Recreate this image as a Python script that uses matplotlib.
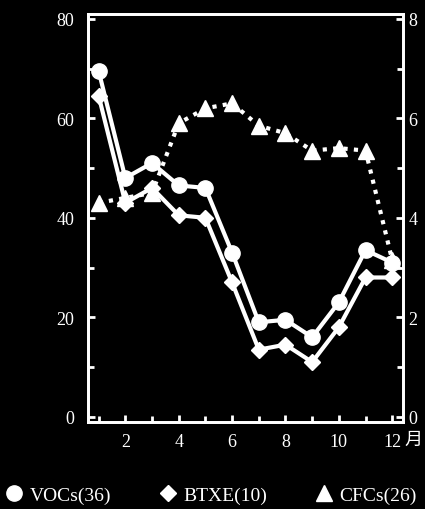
import matplotlib.pyplot as plt
from matplotlib.ticker import MultipleLocator

months = list(range(1, 13))
vocs = [69.5, 48, 51, 46.5, 46, 33, 19, 19.5, 16, 23, 33.5, 31]
btxe = [64.5, 43, 46, 40.5, 40, 27, 13.5, 14.5, 11, 18, 28, 28]
cfcs = [4.3, 4.4, 4.5, 5.9, 6.2, 6.3, 5.85, 5.7, 5.35, 5.4, 5.35, 3.15]
labels = ["VOCs(36)", "BTXE(10)", "CFCs(26)"]

plt.rcParams['font.family'] = ['Liberation Serif', 'Noto Sans CJK SC']
fg = 'white'

fig = plt.figure(figsize=(4.25, 5.1), dpi=100, facecolor='black')
ax = fig.add_axes([0.207, 0.171, 0.741, 0.80], facecolor='black')
ax2 = ax.twinx()

l1, = ax.plot(months, vocs, color=fg, lw=3, marker='o', ms=11, zorder=3)
l2, = ax.plot(months, btxe, color=fg, lw=3, marker='D', ms=8, zorder=3)
l3, = ax2.plot(months, cfcs, color=fg, lw=3, ls=(0, (1, 1.5)), marker='^', ms=11)

ax.set_xlim(0.6, 12.4)
ax.set_ylim(-1, 81)
ax2.set_ylim(-0.1, 8.1)
ax.set_xticks([2, 4, 6, 8, 10, 12])
ax.set_xticklabels(['2', '4', '6', '8', '10', '12'])
ax.xaxis.set_minor_locator(MultipleLocator(1))
ax.yaxis.set_major_locator(MultipleLocator(20))
ax.yaxis.set_minor_locator(MultipleLocator(10))
ax2.yaxis.set_major_locator(MultipleLocator(2))
ax2.yaxis.set_minor_locator(MultipleLocator(1))

for a in (ax, ax2):
    for s in a.spines.values():
        s.set_color(fg)
        s.set_linewidth(2)
    a.tick_params(colors=fg, labelcolor=fg, direction='in', labelsize=13, width=2, length=5, pad=6)
    a.tick_params(which='minor', colors=fg, direction='in', width=2, length=4)
ax.tick_params(axis='y', pad=10)
ax2.tick_params(axis='y', pad=4)
ax.tick_params(axis='x', pad=8)
ax.text(12.78, -4.6, '月', color=fg, fontsize=13, ha='center', va='center')

fig.legend([l1, l2, l3], labels, loc='lower center', bbox_to_anchor=(0.5, -0.025), ncol=3,
           frameon=False, labelcolor=fg, fontsize=14, handlelength=0.6, columnspacing=2.6,
           handletextpad=0.5)
for h in fig.legends[0].legend_handles:
    h.set_linestyle('none')

fig.savefig('out.png', facecolor='black')
